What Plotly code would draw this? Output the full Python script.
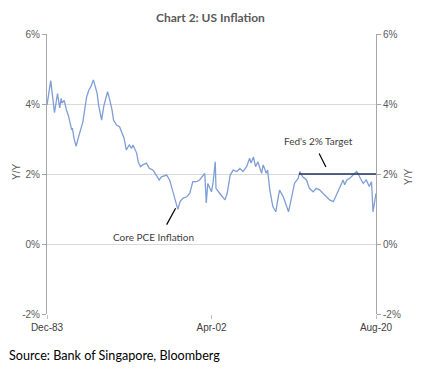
import plotly.graph_objects as go

# Core PCE inflation, Y/Y %
dates = [
    "1983-12", "1984-05", "1984-10", "1985-02", "1985-05", "1985-07", "1985-08", "1985-11",
    "1986-02", "1986-05", "1986-09", "1986-10", "1986-12", "1987-03", "1987-05", "1987-08",
    "1987-12", "1988-05", "1988-08", "1988-11", "1989-02", "1989-04", "1989-07", "1989-09",
    "1989-11", "1990-01", "1990-04", "1990-07", "1990-09", "1990-12", "1991-03", "1991-05",
    "1991-09", "1992-01", "1992-04", "1992-07", "1992-10", "1993-02", "1993-05", "1993-07",
    "1993-12", "1994-02", "1994-05", "1994-08", "1995-01", "1995-05", "1995-10", "1996-02",
    "1996-06", "1996-09", "1997-04", "1997-08", "1998-01", "1998-04", "1998-07", "1998-10",
    "1999-02", "1999-07", "1999-11", "2000-03", "2000-08", "2000-12", "2001-05", "2001-07",
    "2001-09", "2001-11", "2002-04", "2002-06", "2002-09", "2002-10", "2003-03", "2003-08",
    "2003-10", "2004-01", "2004-05", "2004-09", "2005-02", "2005-06", "2005-10", "2006-03",
    "2006-07", "2006-09", "2006-12", "2007-03", "2007-06", "2007-11", "2008-01", "2008-03",
    "2008-05", "2008-07", "2008-10", "2009-02", "2009-06", "2009-09", "2009-11", "2010-04",
    "2010-08", "2010-11", "2011-03", "2011-07", "2011-12", "2012-02", "2012-06", "2012-11",
    "2013-03", "2013-08", "2013-12", "2014-05", "2014-09", "2015-02", "2015-06", "2015-11",
    "2016-03", "2016-08", "2016-12", "2017-02", "2017-05", "2017-09", "2018-01", "2018-06",
    "2018-08", "2018-10", "2019-03", "2019-07", "2019-11", "2020-02", "2020-04", "2020-07",
    "2020-08",
]
core_pce = [
    3.97, 4.67, 3.75, 4.30, 3.89, 4.16, 4.03, 4.10,
    3.83, 3.64, 3.26, 3.31, 3.03, 2.79, 2.97, 3.23,
    3.49, 4.20, 4.40, 4.51, 4.69, 4.54, 4.31, 3.97,
    3.78, 3.54, 3.94, 4.20, 4.35, 4.11, 3.83, 3.54,
    3.40, 3.35, 3.21, 3.03, 2.69, 2.83, 2.73, 2.83,
    2.59, 2.34, 2.21, 2.26, 2.31, 2.16, 2.11, 1.97,
    1.83, 1.92, 1.97, 1.83, 1.45, 1.26, 0.99, 1.21,
    1.31, 1.35, 1.45, 1.78, 1.78, 1.83, 1.97, 2.02,
    1.17, 1.73, 1.49, 1.73, 2.35, 1.59, 1.45, 1.31,
    1.26, 1.45, 1.97, 2.11, 2.07, 2.16, 2.07, 2.21,
    2.45, 2.31, 2.49, 2.21, 2.35, 2.02, 2.26, 2.16,
    2.02, 2.11, 1.54, 1.07, 0.92, 1.31, 1.54, 1.35,
    1.07, 0.92, 1.31, 1.73, 1.88, 2.07, 1.92, 1.83,
    1.59, 1.49, 1.59, 1.54, 1.45, 1.35, 1.26, 1.21,
    1.40, 1.64, 1.83, 1.69, 1.83, 1.88, 1.97, 2.07,
    2.02, 1.92, 1.73, 1.83, 1.64, 1.78, 0.92, 1.35,
    1.45,
]

# Fed's 2% target line
target_dates = ["2012-01", "2020-08"]
target_values = [2, 2]

y_ticks = [-2, 0, 2, 4, 6]
y_ticktext = ["-2%", "0%", "2%", "4%", "6%"]
x_ticks = ["1983-12-01", "2002-04-01", "2020-08-01"]
x_ticktext = ["Dec-83", "Apr-02", "Aug-20"]

# The page body adds an 8px offset; lay the figure out so that the photo lines up.
OFF = 8
W, H = 421 - 2 * OFF, 373 - 2 * OFF
PL, PT, PW, PH = 47, 34, 329, 280          # plot area in photo pixels
L, T = PL - OFF, PT - OFF
R, B = W - L - PW, H - T - PH


def px(x):
    return (x - PL) / PW


def py(y):
    return (PT + PH - y) / PH


fig = go.Figure()
fig.add_trace(go.Scatter(x=dates, y=core_pce, mode="lines",
                         line=dict(color="#7F9ED6", width=1.3),
                         showlegend=False, hoverinfo="skip"))
fig.add_trace(go.Scatter(x=target_dates, y=target_values, mode="lines",
                         line=dict(color="#1F2F5C", width=1.5),
                         showlegend=False, yaxis="y2", hoverinfo="skip"))

tick_font = dict(family="Liberation Sans", size=10, color="#595959")
fig.update_layout(
    width=W, height=H,
    margin=dict(l=L, r=R, t=T, b=B, autoexpand=False),
    paper_bgcolor="white", plot_bgcolor="white",
    xaxis=dict(type="date", range=["1983-12-01", "2020-08-01"],
               tickvals=x_ticks, ticktext=x_ticktext,
               tickfont=dict(family="Liberation Sans", size=10, color="#404040"),
               ticks="outside", ticklen=4, tickcolor="#BFBFBF",
               showgrid=False, showline=False, zeroline=False, automargin=False),
    yaxis=dict(range=[-2, 6], tickvals=y_ticks, ticktext=y_ticktext,
               tickfont=tick_font, ticks="outside", ticklen=4, tickcolor="#A6A6A6",
               showgrid=True, gridcolor="#D9D9D9", gridwidth=1,
               showline=True, linecolor="#A6A6A6", linewidth=1, zeroline=False,
               automargin=False),
    yaxis2=dict(range=[-2, 6], tickvals=y_ticks, ticktext=y_ticktext, overlaying="y",
                side="right", tickfont=tick_font, ticks="outside", ticklen=4,
                tickcolor="#A6A6A6", showgrid=False, showline=True, linecolor="#A6A6A6",
                linewidth=1, zeroline=False, automargin=False),
)

# title
fig.add_annotation(xref="paper", yref="paper", x=px(210), y=py(17),
                   text="<b>Chart 2: US Inflation</b>", showarrow=False,
                   xanchor="center", yanchor="middle",
                   font=dict(family="Lato", size=12, color="#595959"))
# axis titles
ytitle_font = dict(family="Liberation Sans", size=10, color="#595959")
fig.add_annotation(xref="paper", yref="paper", x=px(16), y=py(172), text="Y/Y",
                   textangle=-90, showarrow=False, xanchor="center", yanchor="middle",
                   font=ytitle_font)
fig.add_annotation(xref="paper", yref="paper", x=px(408), y=py(177), text="Y/Y",
                   textangle=-90, showarrow=False, xanchor="center", yanchor="middle",
                   font=ytitle_font)

ann_font = dict(family="Lato", size=10, color="#404040")
fig.add_annotation(x="1995-11-01", y=0.2, text="Core PCE Inflation", showarrow=False,
                   font=ann_font, xanchor="center", yanchor="middle")
fig.add_annotation(x="1998-04-01", y=1.02, ax="1997-03-01", ay=0.51, axref="x", ayref="y",
                   text="", showarrow=True, arrowhead=0, arrowwidth=1.2, arrowcolor="#000000")
fig.add_annotation(x="2014-03-01", y=2.94, text="Fed's 2% Target", showarrow=False,
                   font=ann_font, xanchor="center", yanchor="middle")
fig.add_annotation(x="2015-01-01", y=2.2, ax="2014-03-01", ay=2.63, axref="x", ayref="y",
                   text="", showarrow=True, arrowhead=0, arrowwidth=1.2, arrowcolor="#000000")
fig.add_annotation(xref="paper", yref="paper", x=px(8), y=py(355),
                   text="Source: Bank of Singapore, Bloomberg", showarrow=False,
                   xanchor="left", yanchor="middle", borderpad=0,
                   font=dict(family="Lato", size=12.6, color="#000000"))

fig.write_html("out.html")
